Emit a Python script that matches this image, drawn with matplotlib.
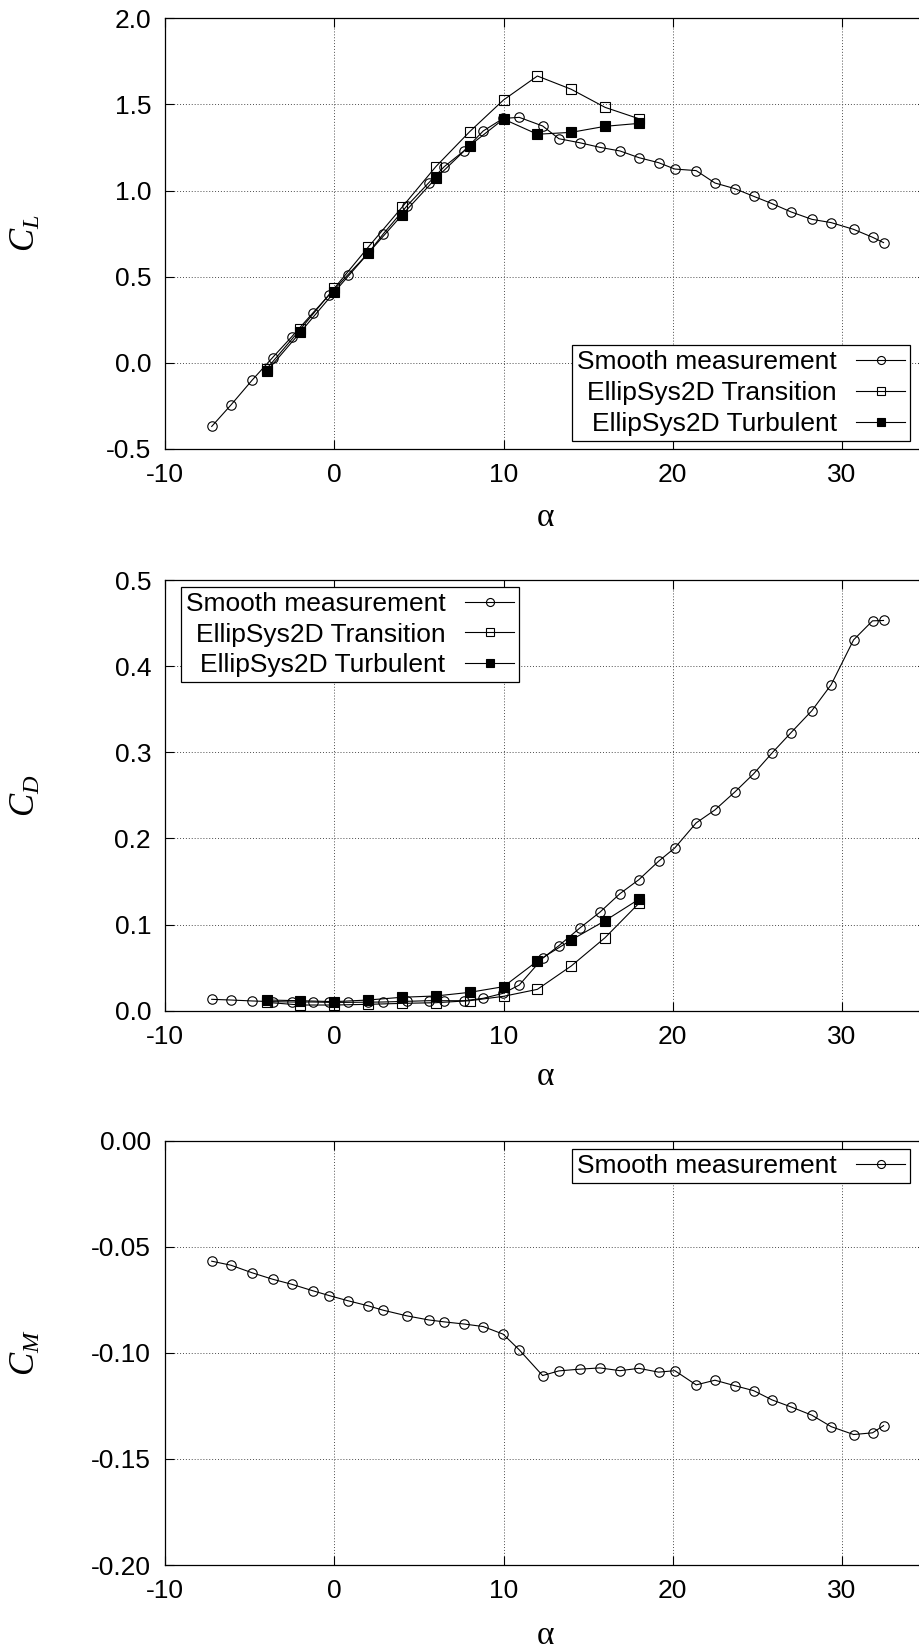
import matplotlib
matplotlib.use("Agg")
import matplotlib.pyplot as plt

plt.rcParams["font.family"] = ["Liberation Sans", "DejaVu Sans"]
plt.rcParams["axes.unicode_minus"] = False
plt.rcParams["mathtext.fontset"] = "custom"
plt.rcParams["mathtext.it"] = "Liberation Serif:italic"
plt.rcParams["mathtext.rm"] = "Liberation Serif"

# ── data ────────────────────────────────────────────────────────────────────
alpha_meas = [-7.24, -6.10, -4.84, -3.64, -2.50, -1.28, -0.30, 0.79, 1.99, 2.89,
              4.31, 5.59, 6.50, 7.66, 8.80, 9.98, 10.93, 12.31, 13.27, 14.49,
              15.69, 16.88, 18.00, 19.16, 20.12, 21.38, 22.49, 23.67, 24.77, 25.87,
              26.99, 28.22, 29.36, 30.68, 31.80, 32.45]
cl_meas = [-0.369, -0.244, -0.099, 0.031, 0.153, 0.288, 0.394, 0.510, 0.635, 0.748,
           0.913, 1.046, 1.139, 1.230, 1.346, 1.419, 1.425, 1.375, 1.301, 1.278,
           1.251, 1.230, 1.191, 1.162, 1.125, 1.116, 1.044, 1.011, 0.967, 0.924,
           0.876, 0.833, 0.814, 0.775, 0.729, 0.698]
cd_meas = [0.0132, 0.0124, 0.0113, 0.0105, 0.0101, 0.0101, 0.0097, 0.0097, 0.0099, 0.0101,
           0.0109, 0.0116, 0.0116, 0.0116, 0.0144, 0.0202, 0.0298, 0.0608, 0.0755, 0.0957,
           0.1143, 0.1359, 0.1522, 0.1735, 0.1890, 0.2180, 0.2331, 0.2540, 0.2749, 0.2993,
           0.3229, 0.3484, 0.3786, 0.4305, 0.4526, 0.4530]
cm_meas = [-0.0568, -0.0587, -0.0623, -0.0653, -0.0677, -0.0707, -0.0730, -0.0754, -0.0778, -0.0799,
           -0.0826, -0.0845, -0.0854, -0.0864, -0.0876, -0.0912, -0.0986, -0.1107, -0.1085, -0.1077,
           -0.1071, -0.1084, -0.1073, -0.1091, -0.1084, -0.1151, -0.1129, -0.1155, -0.1178, -0.1222,
           -0.1255, -0.1294, -0.1348, -0.1385, -0.1377, -0.1343]

alpha_cfd = [-4, -2, 0, 2, 4, 6, 8, 10, 12, 14, 16, 18]
cl_trans = [-0.035, 0.195, 0.433, 0.671, 0.903, 1.139, 1.342, 1.526, 1.665, 1.588, 1.483, 1.417]
cl_turb = [-0.050, 0.178, 0.410, 0.636, 0.858, 1.071, 1.261, 1.415, 1.327, 1.338, 1.373, 1.390]
cd_trans = [0.0097, 0.0066, 0.0066, 0.0074, 0.0085, 0.0093, 0.0116, 0.0167, 0.0248, 0.0519, 0.0848, 0.1247]
cd_turb = [0.0124, 0.0116, 0.0105, 0.0124, 0.0156, 0.0171, 0.0213, 0.0279, 0.0577, 0.0821, 0.1045, 0.1294]

x_ticks = [-10, 0, 10, 20, 30]
cl_ticks = [-0.5, 0.0, 0.5, 1.0, 1.5, 2.0]
cd_ticks = [0.0, 0.1, 0.2, 0.3, 0.4, 0.5]
cm_ticks = [-0.20, -0.15, -0.10, -0.05, 0.00]

LBL_MEAS = "Smooth measurement"
LBL_TRANS = "EllipSys2D Transition"
LBL_TURB = "EllipSys2D Turbulent"

W, H = 920, 1651
fig = plt.figure(figsize=(W / 100, H / 100), dpi=100)

# axes span in pixels; the right border lies just past the picture's edge
AX_L, AX_R = 165, 926.7


def make_axes(top, bottom):
    return fig.add_axes([AX_L / W, 1 - bottom / H, (AX_R - AX_L) / W, (bottom - top) / H])


def style_axes(ax, yticks, fmt, ylabel, top_px, bot_px, xlab_off):
    ax.set_xlim(-10, 35)
    ax.set_ylim(yticks[0], yticks[-1])
    ax.set_xticks(x_ticks)
    ax.set_yticks(yticks)
    ax.set_yticklabels([fmt.format(v) for v in yticks])
    ax.tick_params(direction="in", length=6.5, width=0.8, labelsize=19,
                   top=True, right=True, pad=10)
    ax.grid(True, linestyle=(0, (1, 2)), color="0.3", linewidth=0.7)
    for s in ax.spines.values():
        s.set_linewidth(0.9)
    ax.set_xlabel(r"$\mathrm{\alpha}$", fontsize=24, va="center")
    ax.xaxis.set_label_coords(0.5, -xlab_off / (bot_px - top_px))
    ax.set_ylabel(ylabel, fontsize=25, va="center")
    ax.yaxis.set_label_coords((25 - AX_L) / (AX_R - AX_L), 0.5)


def add_legend(ax, loc, anchor):
    # gnuplot-style key: text right-aligned, sample on the right
    leg = ax.legend(loc=loc, bbox_to_anchor=anchor, borderaxespad=0, fontsize=19,
                    markerfirst=False, frameon=True, fancybox=False, framealpha=1,
                    edgecolor="black", handlelength=1.85, handletextpad=0.75,
                    labelspacing=0.26, borderpad=0.18, markerscale=0.85)
    leg.get_frame().set_linewidth(0.9)
    return leg


mk = dict(color="black", linewidth=0.8, markersize=6.8, markeredgewidth=0.8)

# ── C_L ─────────────────────────────────────────────────────────────────────
t1, b1 = 18.3, 449
ax1 = make_axes(t1, b1)
ax1.plot(alpha_meas, cl_meas, marker="o", mfc="none", label=LBL_MEAS, **mk)
ax1.plot(alpha_cfd, cl_trans, marker="s", mfc="none", label=LBL_TRANS, **mk)
ax1.plot(alpha_cfd, cl_turb, marker="s", mfc="black", label=LBL_TURB, **mk)
style_axes(ax1, cl_ticks, "{:.1f}", r"$C_L$", t1, b1, 68)
add_legend(ax1, "lower right", ((910 - AX_L) / (AX_R - AX_L), (b1 - 440.7) / (b1 - t1)))

# ── C_D ─────────────────────────────────────────────────────────────────────
t2, b2 = 580, 1010.7
ax2 = make_axes(t2, b2)
ax2.plot(alpha_meas, cd_meas, marker="o", mfc="none", label=LBL_MEAS, **mk)
ax2.plot(alpha_cfd, cd_trans, marker="s", mfc="none", label=LBL_TRANS, **mk)
ax2.plot(alpha_cfd, cd_turb, marker="s", mfc="black", label=LBL_TURB, **mk)
style_axes(ax2, cd_ticks, "{:.1f}", r"$C_D$", t2, b2, 66)
add_legend(ax2, "upper left", ((181 - AX_L) / (AX_R - AX_L), 1 - (587 - t2) / (b2 - t2)))

# ── C_M ─────────────────────────────────────────────────────────────────────
t3, b3 = 1140.7, 1565
ax3 = make_axes(t3, b3)
ax3.plot(alpha_meas, cm_meas, marker="o", mfc="none", label=LBL_MEAS, **mk)
style_axes(ax3, cm_ticks, "{:.2f}", r"$C_M$", t3, b3, 70)
add_legend(ax3, "upper right", ((910 - AX_L) / (AX_R - AX_L), 1 - (1149 - t3) / (b3 - t3)))

fig.savefig("out.png", dpi=100)
